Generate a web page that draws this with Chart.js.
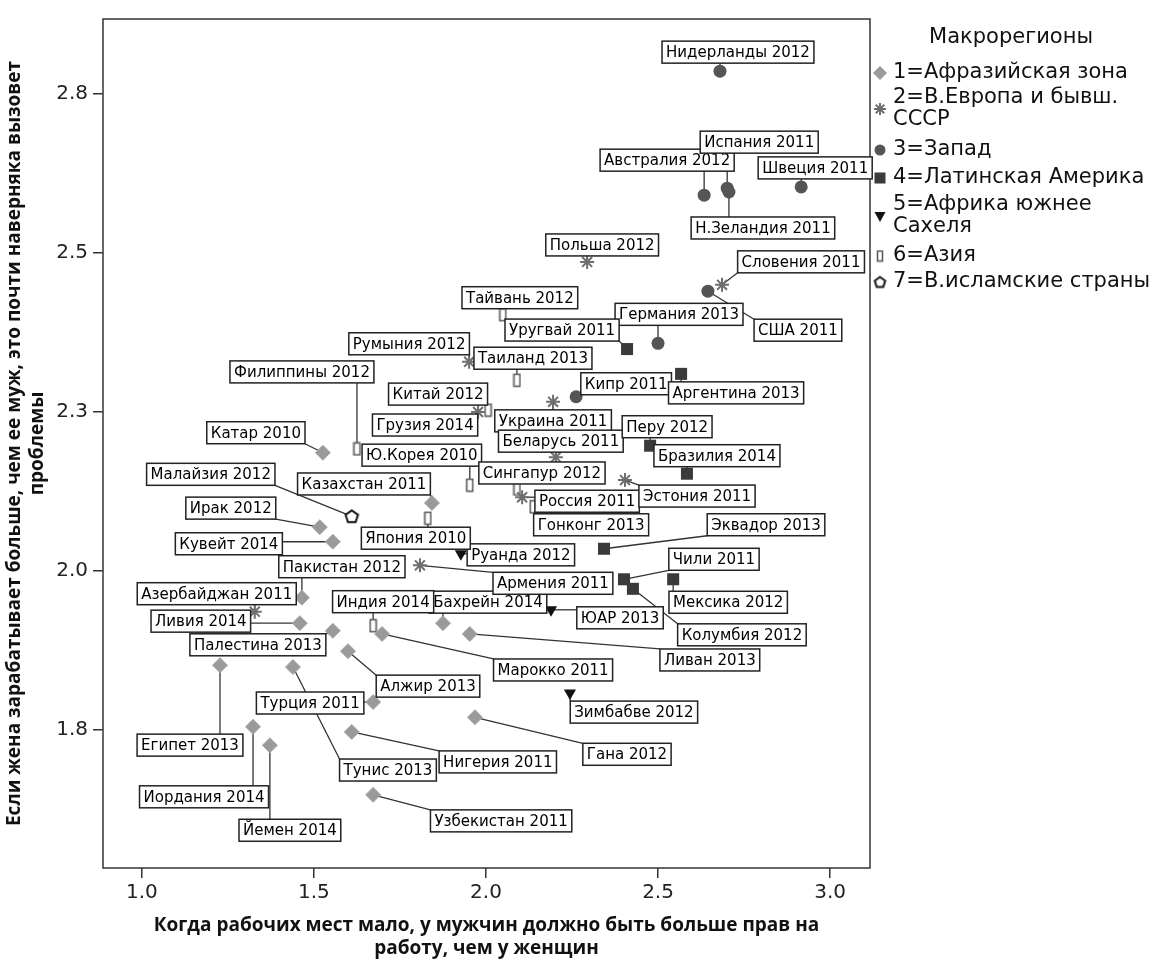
<!DOCTYPE html>
<html>
<head>
<meta charset="utf-8">
<script src="https://cdn.jsdelivr.net/npm/chart.js@4.4.1/dist/chart.umd.min.js"></script>
<style>
  html, body { margin: 0; padding: 0; background: #fff; }
  #wrap { width: 1168px; height: 971px; }
</style>
</head>
<body>
<div id="wrap"><canvas id="chart"></canvas></div>
<script>
// ---- данные (x: права мужчин на работу, y: проблемы, если жена зарабатывает больше) ----
const afrNames = ['Катар 2010', 'Казахстан 2011', 'Ирак 2012', 'Кувейт 2014', 'Пакистан 2012', 'Ливия 2014',
  'Палестина 2013', 'Египет 2013', 'Алжир 2013', 'Тунис 2013', 'Турция 2011', 'Иордания 2014', 'Йемен 2014',
  'Нигерия 2011', 'Узбекистан 2011', 'Бахрейн 2014', 'Ливан 2013', 'Марокко 2011', 'Гана 2012'];
const afrX = [1.526, 1.843, 1.517, 1.555, 1.465, 1.459, 1.555, 1.227, 1.599, 1.439, 1.672, 1.323, 1.372,
  1.610, 1.672, 1.875, 1.953, 1.698, 1.968];
const afrY = [2.186, 2.107, 2.069, 2.046, 1.958, 1.918, 1.906, 1.852, 1.874, 1.849, 1.794, 1.755, 1.726,
  1.747, 1.648, 1.918, 1.901, 1.901, 1.770];

const eeuNames = ['Польша 2012', 'Словения 2011', 'Румыния 2012', 'Грузия 2014', 'Украина 2011', 'Беларусь 2011',
  'Россия 2011', 'Эстония 2011', 'Армения 2011', 'Азербайджан 2011'];
const eeuX = [2.294, 2.686, 1.951, 1.977, 2.195, 2.203, 2.105, 2.404, 1.808, 1.328];
const eeuY = [2.486, 2.450, 2.329, 2.250, 2.266, 2.179, 2.116, 2.143, 2.009, 1.936];

const westNames = ['Нидерланды 2012', 'Австралия 2012', 'Испания 2011', 'Н.Зеландия 2011', 'Швеция 2011',
  'США 2011', 'Германия 2013', 'Кипр 2011'];
const westX = [2.680, 2.634, 2.701, 2.706, 2.916, 2.645, 2.500, 2.262];
const westY = [2.786, 2.591, 2.602, 2.596, 2.604, 2.440, 2.358, 2.274];

const latNames = ['Уругвай 2011', 'Аргентина 2013', 'Перу 2012', 'Бразилия 2014', 'Эквадор 2013', 'Чили 2011',
  'Мексика 2012', 'Колумбия 2012'];
const latX = [2.410, 2.567, 2.477, 2.584, 2.343, 2.401, 2.544, 2.427];
const latY = [2.349, 2.310, 2.197, 2.153, 2.035, 1.987, 1.987, 1.972];

const afsNames = ['Руанда 2012', 'ЮАР 2013', 'Зимбабве 2012'];
const afsX = [1.927, 2.189, 2.244];
const afsY = [2.027, 1.939, 1.808];

const asiaNames = ['Тайвань 2012', 'Таиланд 2013', 'Филиппины 2012', 'Китай 2012', 'Ю.Корея 2010', 'Япония 2010',
  'Сингапур 2012', 'Гонконг 2013', 'Индия 2014'];
const asiaX = [2.049, 2.090, 1.625, 2.006, 1.953, 1.831, 2.090, 2.137, 1.672];
const asiaY = [2.403, 2.300, 2.192, 2.253, 2.135, 2.083, 2.129, 2.101, 1.914];

const islNames = ['Малайзия 2012'];
const islX = [1.610];
const islY = [2.086];

const regionNames = ['1=Афразийская зона', '2=В.Европа и бывш. СССР', '3=Запад', '4=Латинская Америка',
  '5=Африка южнее Сахеля', '6=Азия', '7=В.исламские страны'];
const legendLines = [['1=Афразийская зона'], ['2=В.Европа и бывш.', 'СССР'], ['3=Запад'], ['4=Латинская Америка'],
  ['5=Африка южнее', 'Сахеля'], ['6=Азия'], ['7=В.исламские страны']];

const xTicks = [1.0, 1.5, 2.0, 2.5, 3.0];
const yTicks = [1.75, 2.0, 2.25, 2.5, 2.75];

const xTitle = ['Когда рабочих мест мало, у мужчин должно быть больше прав на', 'работу, чем у женщин'];
const yTitle = ['Если жена зарабатывает больше, чем ее муж, это почти наверняка вызовет', 'проблемы'];

// ---- где стоят подписи: сдвиг центра рамки от точки, px ----
const labelOffsets = {
  'Катар 2010': [-67, -20], 'Казахстан 2011': [-68, -19], 'Ирак 2012': [-89, -19], 'Кувейт 2014': [-104, 2],
  'Пакистан 2012': [40, -31], 'Ливия 2014': [-99, -2], 'Палестина 2013': [-75, 14], 'Египет 2013': [-30, 80],
  'Алжир 2013': [80, 35], 'Тунис 2013': [95, 103], 'Турция 2011': [-63, 1], 'Иордания 2014': [-49, 70],
  'Йемен 2014': [20, 85], 'Нигерия 2011': [146, 30], 'Узбекистан 2011': [128, 26], 'Бахрейн 2014': [45, -21],
  'Ливан 2013': [240, 26], 'Марокко 2011': [171, 36], 'Гана 2012': [152, 37],
  'Польша 2012': [15, -17], 'Словения 2011': [79, -23], 'Румыния 2012': [-60, -18], 'Грузия 2014': [-53, 13],
  'Украина 2011': [0, 19], 'Беларусь 2011': [5, -16], 'Россия 2011': [65, 4], 'Эстония 2011': [72, 16],
  'Армения 2011': [133, 18], 'Азербайджан 2011': [-38, -18],
  'Нидерланды 2012': [18, -19], 'Австралия 2012': [-37, -35], 'Испания 2011': [32, -46],
  'Н.Зеландия 2011': [34, 36], 'Швеция 2011': [14, -19], 'США 2011': [90, 39], 'Германия 2013': [21, -29],
  'Кипр 2011': [50, -13],
  'Уругвай 2011': [-65, -19], 'Аргентина 2013': [55, 19], 'Перу 2012': [17, -19], 'Бразилия 2014': [30, -18],
  'Эквадор 2013': [162, -24], 'Чили 2011': [90, -20], 'Мексика 2012': [55, 23], 'Колумбия 2012': [109, 46],
  'Руанда 2012': [60, 1], 'ЮАР 2013': [69, 8], 'Зимбабве 2012': [64, 19],
  'Тайвань 2012': [17, -17], 'Таиланд 2013': [16, -22], 'Филиппины 2012': [-55, -77], 'Китай 2012': [-50, -16],
  'Ю.Корея 2010': [-48, -30], 'Япония 2010': [-12, 20], 'Сингапур 2012': [25, -16], 'Гонконг 2013': [58, 18],
  'Индия 2014': [10, -24],
  'Малайзия 2012': [-141, -42]
};

const legendRowY = [73, 98, 150, 178, 205, 256, 282];

// маркеры, которых нет в Chart.js
function asiaMarker(w, h) {
  const c = document.createElement('canvas');
  c.width = w + 3; c.height = h + 3;
  const g = c.getContext('2d');
  g.fillStyle = '#fff'; g.strokeStyle = '#555'; g.lineWidth = 1.5;
  g.fillRect(1.5, 1.5, w, h); g.strokeRect(1.5, 1.5, w, h);
  return c;
}
function pentagonMarker(r) {
  const s = Math.ceil(r * 2 + 4);
  const c = document.createElement('canvas');
  c.width = s; c.height = s;
  const g = c.getContext('2d');
  g.beginPath();
  for (let k = 0; k < 5; k++) {
    const a = -Math.PI / 2 + k * 2 * Math.PI / 5;
    g.lineTo(s / 2 + r * Math.cos(a), s / 2 + 0.5 + r * Math.sin(a));
  }
  g.closePath();
  g.fillStyle = '#fff'; g.fill();
  g.strokeStyle = '#111'; g.lineWidth = 2; g.stroke();
  return c;
}
const asiaImg = asiaMarker(6, 12);
const islImg = pentagonMarker(6.5);
const asiaLegendImg = asiaMarker(5, 10);
const islLegendImg = pentagonMarker(5.5);

function pts(xs, ys, names) {
  return xs.map((x, i) => ({ x: x, y: ys[i], name: names[i] }));
}

const datasets = [
  { label: regionNames[0], data: pts(afrX, afrY, afrNames), pointStyle: 'rectRot', pointRadius: 7.5,
    pointBackgroundColor: '#9a9a9a', pointBorderColor: '#a8a8a8', pointBorderWidth: 1 },
  { label: regionNames[1], data: pts(eeuX, eeuY, eeuNames), pointStyle: 'star', pointRadius: 7,
    pointBackgroundColor: '#6e6e6e', pointBorderColor: '#6e6e6e', pointBorderWidth: 2 },
  { label: regionNames[2], data: pts(westX, westY, westNames), pointStyle: 'circle', pointRadius: 6.5,
    pointBackgroundColor: '#555', pointBorderColor: '#555', pointBorderWidth: 0 },
  { label: regionNames[3], data: pts(latX, latY, latNames), pointStyle: 'rect', pointRadius: 8.5,
    pointBackgroundColor: '#3a3a3a', pointBorderColor: '#3a3a3a', pointBorderWidth: 0 },
  { label: regionNames[4], data: pts(afsX, afsY, afsNames), pointStyle: 'triangle', pointRadius: 7,
    pointRotation: 180, pointBackgroundColor: '#111', pointBorderColor: '#111', pointBorderWidth: 0 },
  { label: regionNames[5], data: pts(asiaX, asiaY, asiaNames), pointStyle: asiaImg, pointRadius: 7 },
  { label: regionNames[6], data: pts(islX, islY, islNames), pointStyle: islImg, pointRadius: 7 }
];

const labelFont = '15px "DejaVu Sans", sans-serif';

function nearestOnBox(px, py, b) {
  return [Math.min(Math.max(px, b.x), b.x + b.w), Math.min(Math.max(py, b.y), b.y + b.h)];
}
function labelBox(ctx, name, el) {
  const off = labelOffsets[name] || [20, -20];
  const w = ctx.measureText(name).width + 8;
  const h = 22;
  return { x: el.x + off[0] - w / 2, y: el.y + off[1] - h / 2, w: w, h: h, cx: el.x + off[0], cy: el.y + off[1] };
}

function legendMarker(ctx, i, x, y) {
  ctx.save();
  if (i === 0) {
    ctx.fillStyle = '#9a9a9a';
    ctx.beginPath(); ctx.moveTo(x - 7, y); ctx.lineTo(x, y - 7); ctx.lineTo(x + 7, y); ctx.lineTo(x, y + 7);
    ctx.closePath(); ctx.fill();
  } else if (i === 1) {
    ctx.strokeStyle = '#6e6e6e'; ctx.lineWidth = 2;
    for (let k = 0; k < 4; k++) {
      const a = k * Math.PI / 4;
      ctx.beginPath(); ctx.moveTo(x - 6 * Math.cos(a), y - 6 * Math.sin(a));
      ctx.lineTo(x + 6 * Math.cos(a), y + 6 * Math.sin(a)); ctx.stroke();
    }
  } else if (i === 2) {
    ctx.fillStyle = '#555';
    ctx.beginPath(); ctx.arc(x, y, 5.5, 0, Math.PI * 2); ctx.fill();
  } else if (i === 3) {
    ctx.fillStyle = '#3a3a3a'; ctx.fillRect(x - 5.5, y - 5.5, 11, 11);
  } else if (i === 4) {
    ctx.fillStyle = '#111';
    ctx.beginPath(); ctx.moveTo(x - 5.5, y - 4); ctx.lineTo(x + 5.5, y - 4); ctx.lineTo(x, y + 6); ctx.closePath(); ctx.fill();
  } else if (i === 5) {
    ctx.drawImage(asiaLegendImg, x - asiaLegendImg.width / 2, y - asiaLegendImg.height / 2);
  } else {
    ctx.drawImage(islLegendImg, x - islLegendImg.width / 2, y - islLegendImg.height / 2);
  }
  ctx.restore();
}

const labelsPlugin = {
  id: 'countryLabels',
  beforeDatasetsDraw(chart) {
    const ctx = chart.ctx, a = chart.chartArea;
    ctx.save();
    ctx.font = labelFont;
    ctx.strokeStyle = '#333';
    ctx.lineWidth = 1.3;
    chart.data.datasets.forEach((ds, i) => {
      chart.getDatasetMeta(i).data.forEach((el, j) => {
        const b = labelBox(ctx, ds.data[j].name, el);
        const p = nearestOnBox(el.x, el.y, b);
        ctx.beginPath(); ctx.moveTo(el.x, el.y); ctx.lineTo(p[0], p[1]); ctx.stroke();
      });
    });
    ctx.strokeStyle = '#333';
    ctx.lineWidth = 1.5;
    ctx.strokeRect(a.left, a.top, a.right - a.left, a.bottom - a.top);
    ctx.restore();
  },
  afterDatasetsDraw(chart) {
    const ctx = chart.ctx;
    ctx.save();
    ctx.font = labelFont;
    ctx.textBaseline = 'middle';
    ctx.textAlign = 'center';
    chart.data.datasets.forEach((ds, i) => {
      chart.getDatasetMeta(i).data.forEach((el, j) => {
        const b = labelBox(ctx, ds.data[j].name, el);
        ctx.fillStyle = '#fff';
        ctx.fillRect(b.x, b.y, b.w, b.h);
        ctx.strokeStyle = '#222';
        ctx.lineWidth = 1.5;
        ctx.strokeRect(b.x, b.y, b.w, b.h);
        ctx.fillStyle = '#000';
        ctx.fillText(ds.data[j].name, b.cx, b.cy + 1);
      });
    });
    ctx.restore();
  },
  afterDraw(chart) {
    const ctx = chart.ctx;
    ctx.save();
    ctx.fillStyle = '#111';
    ctx.font = '21px "DejaVu Sans", sans-serif';
    ctx.textBaseline = 'middle';
    ctx.textAlign = 'center';
    ctx.fillText('Макрорегионы', 1011, 38);
    ctx.textAlign = 'left';
    legendLines.forEach((lines, i) => {
      const y0 = legendRowY[i];
      lines.forEach((t, k) => ctx.fillText(t, 893, y0 + k * 22));
      legendMarker(ctx, i, 880, y0 + (lines.length - 1) * 11);
    });
    ctx.restore();
  }
};

new Chart(document.getElementById('chart'), {
  type: 'scatter',
  data: { datasets: datasets },
  plugins: [labelsPlugin],
  options: {
    responsive: true,
    maintainAspectRatio: false,
    animation: false,
    events: [],
    layout: { padding: { left: 0, right: 298, top: 19, bottom: 0 } },
    plugins: { legend: { display: false }, tooltip: { enabled: false } },
    scales: {
      x: {
        type: 'linear', min: 0.887, max: 3.116,
        afterFit: (s) => { s.height = 103; },
        afterBuildTicks: (s) => { s.ticks = xTicks.map(v => ({ value: v })); },
        grid: { drawOnChartArea: false, drawTicks: true, tickLength: 10, color: '#333', lineWidth: 1.5 },
        border: { display: false },
        ticks: { padding: 3, color: '#222', font: { family: 'DejaVu Sans', size: 20 },
          callback: (v) => Number(v).toFixed(1) },
        title: { display: true, text: xTitle, color: '#111',
          font: { family: 'Open Sans', size: 19, weight: 'bold', lineHeight: 1.2 },
          padding: { top: 0, bottom: 11 } }
      },
      y: {
        type: 'linear', min: 1.533, max: 2.868,
        afterFit: (s) => { s.width = 103; },
        afterBuildTicks: (s) => { s.ticks = yTicks.map(v => ({ value: v })); },
        grid: { drawOnChartArea: false, drawTicks: true, tickLength: 10, color: '#333', lineWidth: 1.5 },
        border: { display: false },
        ticks: { padding: 5, color: '#222', font: { family: 'DejaVu Sans', size: 20 },
          callback: (v) => Number(v).toFixed(1) },
        title: { display: true, text: yTitle, color: '#111',
          font: { family: 'Open Sans', size: 19, weight: 'bold', lineHeight: 1.2 },
          padding: { top: 3, bottom: 0 } }
      }
    }
  }
});
</script>
</body>
</html>
